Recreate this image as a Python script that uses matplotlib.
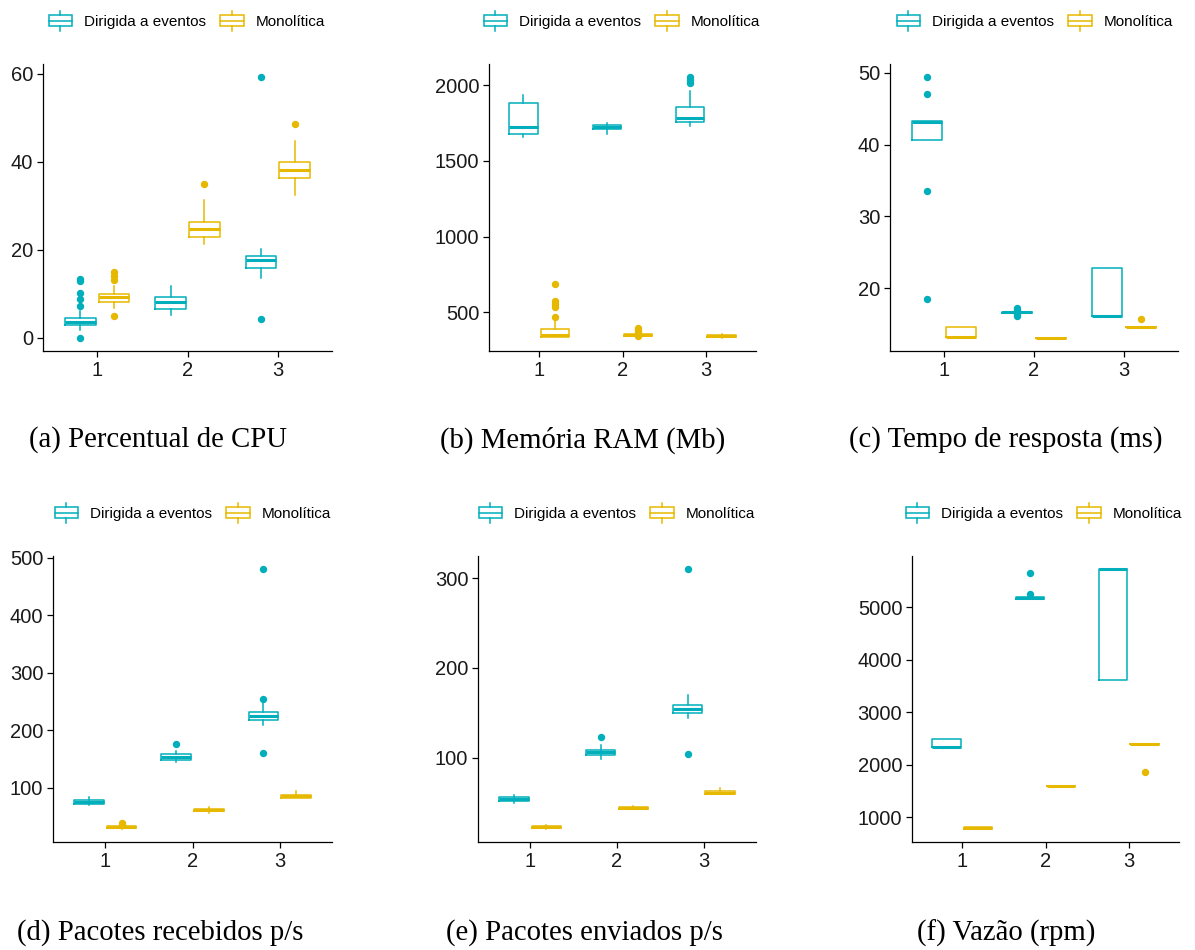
import matplotlib
matplotlib.use("Agg")
import matplotlib.pyplot as plt
from matplotlib.legend_handler import HandlerBase
from matplotlib.patches import Rectangle
from matplotlib.lines import Line2D

plt.rcParams["font.family"] = ["Liberation Sans", "DejaVu Sans"]

# each row: [whisker low, q1, median, q3, whisker high] for groups 1, 2, 3
groups = [1, 2, 3]
series = ["Dirigida a eventos", "Monolítica"]
colors = ["#00AFBB", "#E7B800"]

cpu_ev = [[1.9, 3.0, 3.6, 4.5, 6.1], [5.3, 6.6, 8.1, 9.4, 11.9], [13.6, 15.8, 17.8, 18.5, 20.2]]
cpu_ev_out = [[13.3, 12.9, 10.2, 8.9, 7.2, 0.0], [], [59.2, 4.2]]
cpu_mo = [[6.8, 8.2, 9.2, 10.0, 11.9], [21.4, 22.8, 24.8, 26.4, 31.4], [32.4, 36.4, 38.2, 39.9, 44.7]]
cpu_mo_out = [[15.0, 14.0, 13.1, 5.0], [35.0], [48.5]]

ram_ev = [[1658, 1676, 1722, 1881, 1938], [1678, 1710, 1728, 1737, 1751], [1733, 1760, 1786, 1857, 1960]]
ram_ev_out = [[], [], [2055, 2033, 2015]]
ram_mo = [[339, 339, 350, 390, 445], [339, 344, 352, 359, 359], [330, 339, 344, 350, 357]]
ram_mo_out = [[685, 577, 555, 537, 471], [397, 380, 368, 341], []]

resp_ev = [[40.7, 40.7, 43.2, 43.3, 43.3], [16.6, 16.6, 16.65, 16.7, 16.7], [16.1, 16.1, 16.1, 22.8, 22.8]]
resp_ev_out = [[49.4, 47.0, 33.5, 18.5], [17.3, 17.0, 16.4, 16.1], []]
resp_mo = [[13.3, 13.3, 13.3, 14.6, 14.6], [13.1, 13.1, 13.1, 13.1, 13.1], [14.65, 14.65, 14.65, 14.65, 14.65]]
resp_mo_out = [[], [], [15.7]]

rec_ev = [[69.2, 72.1, 75.6, 79.1, 83.0], [144.2, 148.3, 154.0, 158.0, 164.5], [209.9, 218.6, 225.0, 231.4, 247.0]]
rec_ev_out = [[], [176.7], [480.8, 254.7, 161.0]]
rec_mo = [[27.9, 30.2, 32.0, 33.7, 33.7], [56.4, 59.9, 61.0, 62.2, 66.9], [82.6, 82.6, 85.5, 87.8, 93.6]]
rec_mo_out = [[37.8, 35.5], [], []]

env_ev = [[49.0, 51.3, 53.5, 56.1, 58.4], [98.9, 102.6, 106.0, 108.9, 113.8], [143.9, 150.2, 154.3, 159.0, 169.9]]
env_ev_out = [[], [123.4], [310.4, 104.5]]
env_mo = [[20.4, 21.9, 22.7, 23.8, 25.3], [42.5, 42.5, 43.9, 45.4, 46.2], [59.1, 59.1, 61.0, 62.8, 65.8]]
env_mo_out = [[], [], []]

vaz_ev = [[2338, 2338, 2338, 2495, 2495], [5158, 5158, 5170, 5183, 5183], [3618, 3618, 5725, 5725, 5725]]
vaz_ev_out = [[], [5643, 5240], []]
vaz_mo = [[773, 773, 792, 811, 811], [1587, 1587, 1587, 1587, 1587], [2388, 2388, 2388, 2388, 2388]]
vaz_mo_out = [[], [], [1852]]

captions = ["(a) Percentual de CPU", "(b) Memória RAM (Mb)", "(c) Tempo de resposta (ms)",
            "(d) Pacotes recebidos p/s", "(e) Pacotes enviados p/s", "(f) Vazão (rpm)"]
yticks = [[0, 20, 40, 60], [500, 1000, 1500, 2000], [20, 30, 40, 50],
          [100, 200, 300, 400, 500], [100, 200, 300], [1000, 2000, 3000, 4000, 5000]]

panels = [(cpu_ev, cpu_ev_out, cpu_mo, cpu_mo_out),
          (ram_ev, ram_ev_out, ram_mo, ram_mo_out),
          (resp_ev, resp_ev_out, resp_mo, resp_mo_out),
          (rec_ev, rec_ev_out, rec_mo, rec_mo_out),
          (env_ev, env_ev_out, env_mo, env_mo_out),
          (vaz_ev, vaz_ev_out, vaz_mo, vaz_mo_out)]

W, H = 1195, 950
# axes boxes in pixels: left, top, right, bottom
boxes = [(43, 64, 332, 351), (489, 64, 756, 351), (890, 64, 1178, 351),
         (53, 556, 332, 842), (478, 556, 756, 842), (912, 556, 1179, 842)]
leg_pos = [(187, 22), (622, 22), (1035, 22), (193, 514), (617, 514), (1044, 514)]
cap_pos = [(158, 440), (583, 440), (1006, 440), (160, 933), (584, 933), (1006, 933)]


def stats(rows, outs):
    return [dict(whislo=r[0], q1=r[1], med=r[2], q3=r[3], whishi=r[4], fliers=o)
            for r, o in zip(rows, outs)]


class BoxKey(HandlerBase):
    def create_artists(self, legend, orig_handle, xdescent, ydescent, width, height, fontsize, trans):
        c = orig_handle.get_edgecolor()
        x0, y0 = -xdescent, -ydescent
        rect = Rectangle((x0, y0 + height * 0.05), width, height * 0.9, fill=False,
                         ec=c, lw=1.1, transform=trans)
        mid = Line2D([x0, x0 + width], [y0 + height / 2] * 2, color=c, lw=1.1, transform=trans)
        top = Line2D([x0 + width / 2] * 2, [y0 + height * 0.95, y0 + height * 1.3], color=c, lw=1.1, transform=trans)
        bot = Line2D([x0 + width / 2] * 2, [y0 - height * 0.3, y0 + height * 0.05], color=c, lw=1.1, transform=trans)
        return [rect, mid, top, bot]


fig = plt.figure(figsize=(W / 100, H / 100), dpi=100)

for i, (ev, ev_out, mo, mo_out) in enumerate(panels):
    l, t, r, b = boxes[i]
    ax = fig.add_axes([l / W, 1 - b / H, (r - l) / W, (b - t) / H])
    for j, (rows, outs) in enumerate([(ev, ev_out), (mo, mo_out)]):
        c = colors[j]
        pos = [g + (j - 0.5) * 0.375 for g in groups]
        ax.bxp(stats(rows, outs), positions=pos, widths=0.34, showcaps=False, manage_ticks=False,
               boxprops=dict(color=c, lw=1.1), whiskerprops=dict(color=c, lw=1.1),
               medianprops=dict(color=c, lw=2.2, solid_capstyle="butt"),
               flierprops=dict(marker="o", markerfacecolor=c, markeredgecolor=c, markersize=4.3))
    # ggplot-style expansion
    allv = [v for rows in (ev, mo) for row in rows for v in row]
    allv += [v for outs in (ev_out, mo_out) for o in outs for v in o]
    lo, hi = min(allv), max(allv)
    pad = (hi - lo) * 0.05
    ax.set_ylim(lo - pad, hi + pad)
    ax.set_xlim(0.4, 3.6)
    ax.set_xticks(groups)
    ax.set_yticks(yticks[i])
    for s in ("top", "right"):
        ax.spines[s].set_visible(False)
    for s in ("left", "bottom"):
        ax.spines[s].set_linewidth(0.9)
        ax.spines[s].set_color("black")
    ax.tick_params(length=4, width=0.9, labelsize=14.5, colors="black", pad=3)
    for lab in ax.get_xticklabels() + ax.get_yticklabels():
        lab.set_color("#1a1a1a")

    handles = [Rectangle((0, 0), 1, 1, fill=False, ec=c) for c in colors]
    cx, cy = leg_pos[i]
    fig.legend(handles, series, loc="center", bbox_to_anchor=(cx / W, 1 - cy / H), ncol=2,
               frameon=False, fontsize=11, handler_map={Rectangle: BoxKey()},
               handlelength=1.55, handleheight=0.85, handletextpad=0.8, columnspacing=0.9)

    px, py = cap_pos[i]
    fig.text(px / W, 1 - py / H, captions[i], ha="center", va="center",
             family="Liberation Serif", fontsize=20.7, color="black")

fig.savefig("out.png", dpi=100)
